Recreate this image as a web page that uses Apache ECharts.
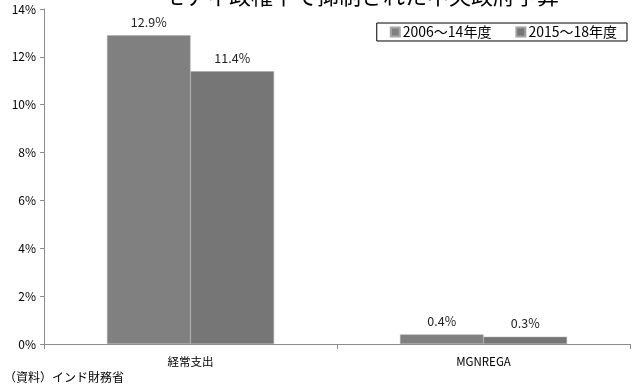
<!DOCTYPE html>
<html>
<head>
<meta charset="utf-8">
<script src="https://cdn.jsdelivr.net/npm/echarts@6/dist/echarts.min.js"></script>
<style>
  html, body { margin: 0; padding: 0; background: #fff; }
  #chart { width: 632px; height: 387px; }
</style>
</head>
<body>
<div id="chart"></div>
<script>
// Budget items and average growth by period
const categories = ['経常支出', 'MGNREGA'];
const seriesNames = ['2006～14年度', '2015～18年度'];
const period1 = [12.9, 0.4];
const period2 = [11.4, 0.3];
const yTicks = [0, 2, 4, 6, 8, 10, 12, 14];

const FONT = '"Noto Sans CJK JP", "Noto Sans", sans-serif';

const chart = echarts.init(document.getElementById('chart'), null, { renderer: 'canvas' });

const labelStyle = {
  show: true,
  position: 'top',
  distance: 7,
  color: '#222',
  fontSize: 12.5,
  fontFamily: FONT,
  formatter: p => p.value.toFixed(1) + '%'
};

chart.setOption({
  animation: false,
  backgroundColor: '#fff',
  title: {
    text: 'モディ政権下で抑制された中央政府予算',
    left: 158,
    top: -20,
    textStyle: { fontSize: 22, fontWeight: 'normal', color: '#000', fontFamily: FONT }
  },
  legend: {
    data: seriesNames,
    right: 5,
    top: 23,
    orient: 'horizontal',
    itemWidth: 9,
    itemHeight: 9,
    itemGap: 24,
    icon: 'rect',
    borderColor: '#000',
    borderWidth: 1,
    padding: [2, 10, 2, 13],
    textStyle: { fontSize: 14, color: '#000', fontFamily: FONT, padding: [0, 0, 0, -2] }
  },
  grid: { left: 44, right: 2, top: 9, bottom: 43, containLabel: false },
  xAxis: {
    type: 'category',
    data: categories,
    axisLine: { show: true, lineStyle: { color: '#8c8c8c', width: 1 } },
    axisTick: { show: true, length: 5, lineStyle: { color: '#8c8c8c' } },
    axisLabel: { color: '#000', fontSize: 11.5, fontFamily: FONT, margin: 12 }
  },
  yAxis: {
    type: 'value',
    min: yTicks[0],
    max: yTicks[yTicks.length - 1],
    interval: 2,
    splitLine: { show: false },
    axisLine: { show: true, lineStyle: { color: '#8c8c8c', width: 1 } },
    axisTick: { show: true, length: 4, lineStyle: { color: '#8c8c8c' } },
    axisLabel: {
      color: '#000', fontSize: 12, fontFamily: FONT, margin: 8,
      formatter: v => v + '%'
    }
  },
  series: [
    {
      name: seriesNames[0],
      type: 'bar',
      data: period1,
      barWidth: '28.5%',
      barGap: '0%',
      itemStyle: { color: '#808080', borderColor: '#a8a8a8', borderWidth: 0.5 },
      label: labelStyle
    },
    {
      name: seriesNames[1],
      type: 'bar',
      data: period2,
      barWidth: '28.5%',
      itemStyle: { color: '#767676', borderColor: '#a0a0a0', borderWidth: 0.5 },
      label: labelStyle
    }
  ],
  graphic: [
    {
      type: 'text',
      left: 4,
      top: 371,
      style: { text: '（資料）インド財務省', fontSize: 12, fill: '#000', fontFamily: FONT }
    }
  ]
});
</script>
</body>
</html>
